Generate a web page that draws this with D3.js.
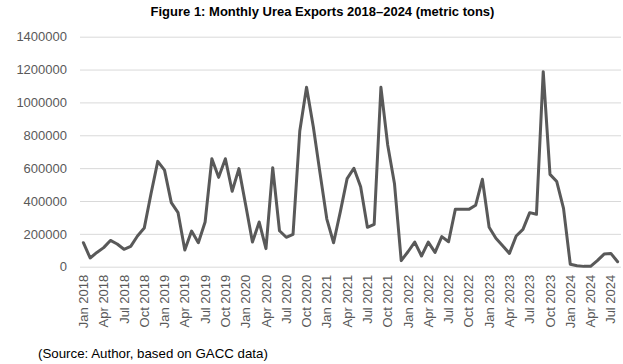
<!DOCTYPE html>
<html><head><meta charset="utf-8">
<script src="https://cdn.jsdelivr.net/npm/d3@7"></script>
<style>body{margin:0;background:#fff;}svg{display:block;}</style>
</head><body><svg id="c" width="623" height="364"></svg>
<script>
const monthNames = ["Jan","Feb","Mar","Apr","May","Jun","Jul","Aug","Sep","Oct","Nov","Dec"];
const categories = [];
for (let y = 2018; y <= 2024; y++) for (let m = 0; m < 12; m++) { if (y === 2024 && m > 7) break; categories.push(monthNames[m] + " " + y); }
const exports = [
 146000, 53000, 87000, 116000, 160000, 138000, 106000, 124000, 187000, 235000, 444000, 641000,
 588000, 390000, 329000, 102000, 217000, 146000, 272000, 657000, 544000, 657000, 459000, 597000,
 375000, 150000, 272000, 110000, 603000, 219000, 179000, 197000, 826000, 1092000, 852000, 568000,
 290000, 146000, 335000, 536000, 599000, 487000, 240000, 258000, 1092000, 741000, 507000, 37000,
 91000, 150000, 65000, 150000, 87000, 183000, 152000, 349000, 349000, 349000, 374000, 532000,
 240000, 173000, 128000, 81000, 187000, 227000, 329000, 319000, 1187000, 562000, 518000, 355000,
 15000, 6000, 2000, 2000, 37000, 77000, 81000, 30000
];
const yTicks = [0, 200000, 400000, 600000, 800000, 1000000, 1200000, 1400000];
const tickLabels = categories.filter((d, i) => i % 3 === 0);
const title = "Figure 1: Monthly Urea Exports 2018\u20132024 (metric tons)";
const source = "(Source: Author, based on GACC data)";

const svg = d3.select("#c");
const L = 80, R = 621, T = 36.7, B = 266.7;
const x = d3.scaleBand().domain(categories).range([L, R]);
const y = d3.scaleLinear().domain([0, 1400000]).range([B, T]);

svg.append("text").attr("x", 322.5).attr("y", 16).attr("text-anchor", "middle")
  .attr("font-family", "Liberation Sans, Arial, sans-serif").attr("font-weight", "bold")
  .attr("font-size", 13).attr("fill", "#000").text(title);

const ya = svg.append("g").attr("transform", `translate(${L},0)`)
  .call(d3.axisLeft(y).tickValues(yTicks).tickFormat(d3.format("d")).tickSize(-(R - L)).tickPadding(13));
ya.select(".domain").remove();
ya.selectAll("line").attr("stroke", "#d9d9d9").attr("stroke-width", 1);
ya.selectAll("text").attr("font-family", "Liberation Sans, Arial, sans-serif").attr("font-size", 13).attr("fill", "#595959");

const xa = svg.append("g").attr("transform", `translate(0,${B})`)
  .call(d3.axisBottom(x).tickValues(tickLabels).tickSize(0).tickPadding(0));
xa.select(".domain").remove();
xa.selectAll("text").attr("font-family", "Liberation Sans, Arial, sans-serif").attr("font-size", 13).attr("fill", "#595959")
  .attr("transform", "rotate(-90)").attr("text-anchor", "end").attr("dy", "0.35em").attr("dx", "-8px").attr("y", 0).attr("x", 0);

const line = d3.line().x((d, i) => x(categories[i]) + x.bandwidth() / 2).y(d => y(d));
svg.append("path").datum(exports).attr("d", line).attr("fill", "none")
  .attr("stroke", "#595959").attr("stroke-width", 3).attr("stroke-linejoin", "round").attr("stroke-linecap", "round");

svg.append("text").attr("x", 38).attr("y", 358).attr("font-family", "Liberation Sans, Arial, sans-serif")
  .attr("font-size", 13.3).attr("fill", "#000").text(source);
</script></body></html>
